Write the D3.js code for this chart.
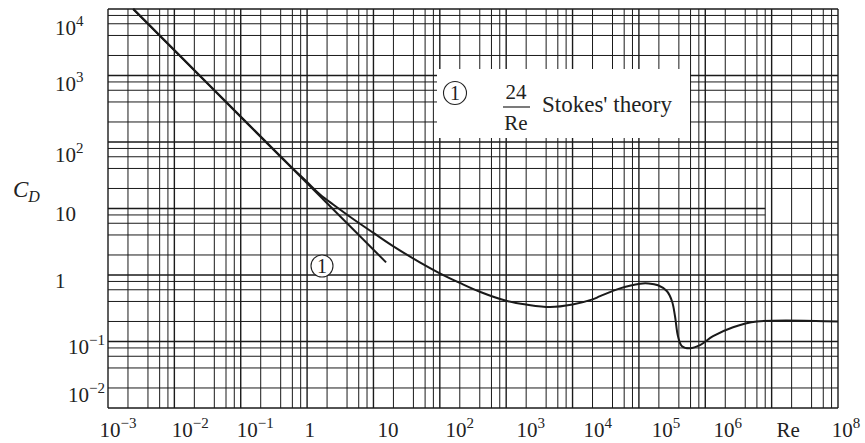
<!DOCTYPE html>
<html><head><meta charset="utf-8">
<script src="https://cdn.jsdelivr.net/npm/d3@7"></script>
<style>
body{margin:0;background:#fff}
svg{display:block}
text{font-family:"Liberation Serif","Times New Roman",serif;fill:#222}
</style>
</head><body>
<svg id="c" width="865" height="443"></svg>
<script>
// ---- data ----
const curveRe = [0.0024, 0.01, 0.1, 0.5, 1, 1.6, 2.5, 5, 10, 20, 50, 100, 200, 400, 1000, 2000, 4600, 10000, 20000, 26000, 52000, 104000, 140000, 194000, 265000, 316000, 350000, 388000, 446000, 589000, 833000, 1.31e6, 2.62e6, 6.0e6, 1e8];
const curveCD = [10000, 2400, 240, 48.5, 25, 16, 11.4, 6.9, 4.3, 2.7, 1.55, 1.06, 0.76, 0.56, 0.41, 0.36, 0.33, 0.36, 0.43, 0.48, 0.63, 0.74, 0.745, 0.70, 0.57, 0.40, 0.24, 0.12, 0.085, 0.079, 0.088, 0.12, 0.164, 0.2, 0.2];
const stokesRe = [0.0024, 15.5];
const stokesCD = [10000, 1.55];
const gridSteps = [1, 2, 4, 6, 8];
const xDecades = [-3, -2, -1, 0, 1, 2, 3, 4, 5, 6, 7];
const yDecades = [-2, -1, 0, 1, 2, 3];
const xTickLabels = ["10^−3","10^−2","10^−1","1","10","10^2","10^3","10^4","10^5","10^6","Re","10^8"];
const xTickAt = [-2.85, -1.76, -0.78, 0.04, 1.22, 2.30, 3.37, 4.38, 5.41, 6.34, 7.25, 8.12];
const yTickLabels = ["10^4","10^3","10^2","10","1","10^−1","10^−2"];
const yTickAt = [3.61, 2.77, 1.705, 0.805, -0.2, -1.19, -1.91];
const shortGridCD = [8, 10];
const shortGridEndRe = 8e6;

// ---- chart ----
const svg = d3.select("#c");
const x = d3.scaleLog().domain([1e-3, 1e8]).range([108, 838]);
const y = d3.scaleLog().domain([1e-2, 1e4]).range([408, 9]);

const xGrid = [];
xDecades.forEach(k => gridSteps.forEach(m => xGrid.push(m * Math.pow(10, k))));
xGrid.push(1e8);
const yGrid = [];
yDecades.forEach(k => gridSteps.forEach(m => yGrid.push(m * Math.pow(10, k))));
yGrid.push(1e4);
const isDecade = v => Math.abs(Math.log10(v) - Math.round(Math.log10(v))) < 1e-9;

const g = svg.append("g");
g.selectAll("line.vx").data(xGrid).join("line")
  .attr("x1", d => x(d)).attr("x2", d => x(d))
  .attr("y1", y(1e4)).attr("y2", y(1e-2))
  .attr("stroke", "#1a1a1a").attr("stroke-width", d => isDecade(d) ? 1.4 : 1);
g.selectAll("line.hy").data(yGrid).join("line")
  .attr("y1", d => y(d)).attr("y2", d => y(d))
  .attr("x1", x(1e-3))
  .attr("x2", d => shortGridCD.some(s => Math.abs(s - d) < 1e-9) ? x(shortGridEndRe) : x(1e8))
  .attr("stroke", "#1a1a1a").attr("stroke-width", d => isDecade(d) ? 1.4 : 1);

// legend box (white, hides the grid)
const lg = svg.append("g");
lg.append("rect").attr("x", 437).attr("y", 69).attr("width", 253).attr("height", 69).attr("fill", "#fff");
lg.append("circle").attr("cx", 455).attr("cy", 93).attr("r", 11.5).attr("fill", "none").attr("stroke", "#222").attr("stroke-width", 1.1);
lg.append("text").attr("x", 455).attr("y", 100).attr("text-anchor", "middle").attr("font-size", 20).text("1");
lg.append("text").attr("x", 516).attr("y", 99).attr("text-anchor", "middle").attr("font-size", 21).text("24");
lg.append("line").attr("x1", 503).attr("x2", 530).attr("y1", 107).attr("y2", 107).attr("stroke", "#222").attr("stroke-width", 1.2);
lg.append("text").attr("x", 516).attr("y", 130).attr("text-anchor", "middle").attr("font-size", 21).text("Re");
lg.append("text").attr("x", 542).attr("y", 112).attr("font-size", 23).text("Stokes' theory");

// curves
const line = d3.line().x(d => x(d[0])).y(d => y(d[1])).curve(d3.curveCatmullRom.alpha(0.5));
svg.append("path").datum(curveRe.map((r, i) => [r, curveCD[i]]))
  .attr("d", line).attr("fill", "none").attr("stroke", "#1a1a1a").attr("stroke-width", 2);
svg.append("path").datum(stokesRe.map((r, i) => [r, stokesCD[i]]))
  .attr("d", d3.line().x(d => x(d[0])).y(d => y(d[1])))
  .attr("fill", "none").attr("stroke", "#1a1a1a").attr("stroke-width", 2);

// label (1) next to the Stokes branch
svg.append("circle").attr("cx", 322).attr("cy", 266).attr("r", 11).attr("fill", "#fff").attr("stroke", "#222").attr("stroke-width", 1.1);
svg.append("text").attr("x", 322).attr("y", 273).attr("text-anchor", "middle").attr("font-size", 20).text("1");

// tick labels
function addLabel(sel, s) {
  const parts = s.split("^");
  sel.append("tspan").text(parts[0]);
  if (parts.length > 1) sel.append("tspan").attr("font-size", 15).attr("dy", -9).text(parts[1]);
}
xTickLabels.forEach((s, i) => {
  const t = svg.append("text").attr("x", x(Math.pow(10, xTickAt[i]))).attr("y", 437)
    .attr("text-anchor", "middle").attr("font-size", 21);
  addLabel(t, s);
});
yTickLabels.forEach((s, i) => {
  const neg = s.includes("−");
  const t = svg.append("text").attr("x", neg ? 105 : 55).attr("y", y(Math.pow(10, yTickAt[i])))
    .attr("text-anchor", neg ? "end" : "start").attr("font-size", 21);
  addLabel(t, s);
});

// axis title C_D
const cd = svg.append("text").attr("x", 13).attr("y", 197).attr("font-size", 23).attr("font-style", "italic");
cd.append("tspan").text("C");
cd.append("tspan").attr("font-size", 16).attr("dy", 5).text("D");
</script>
</body></html>
